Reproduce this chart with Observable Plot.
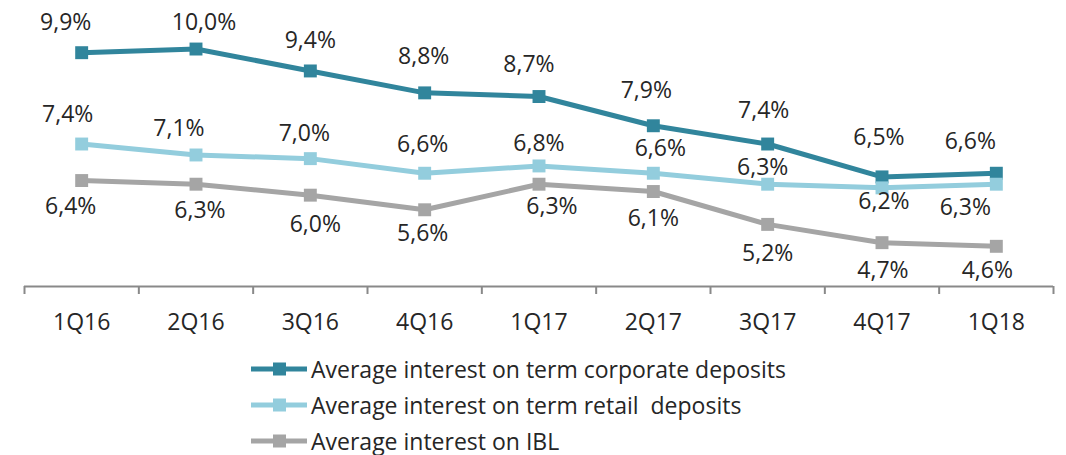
<!DOCTYPE html>
<html>
<head>
<meta charset="utf-8">
<script src="https://cdn.jsdelivr.net/npm/d3@7"></script>
<script src="https://cdn.jsdelivr.net/npm/@observablehq/plot@0.6"></script>
<style>
  html, body { margin: 0; padding: 0; background: #fff; }
  body { width: 1066px; height: 455px; overflow: hidden; font-family: "Open Sans", sans-serif; color: #262626; }
  #legend { position: relative; padding-top: 11px; }
  .row { display: flex; align-items: center; height: 36px; margin-left: 251px; font-size: 23px; }
  .row svg { margin-right: 4px; flex: none; }
</style>
</head>
<body>
<div id="chart"></div>
<div id="legend"></div>
<script>
const categories = ["1Q16","2Q16","3Q16","4Q16","1Q17","2Q17","3Q17","4Q17","1Q18"];
const corporate = [9.9, 10.0, 9.4, 8.8, 8.7, 7.9, 7.4, 6.5, 6.6];
const retail    = [7.4, 7.1, 7.0, 6.6, 6.8, 6.6, 6.3, 6.2, 6.3];
const ibl       = [6.4, 6.3, 6.0, 5.6, 6.3, 6.1, 5.2, 4.7, 4.6];
const seriesNames = [
  "Average interest on term corporate deposits",
  "Average interest on term retail  deposits",
  "Average interest on IBL"
];
const seriesColors = ["#31859C", "#93CDDD", "#A5A5A5"];

// label nudges (dx, dy in px) per series, per category
const labelDx = [
  [-16, 8, 0, -1, -10, -7, -4, -3, -26],
  [-14, -17, -6, -2, 0, 7, -5, 2, -31],
  [-11, 4, 5, -2, 13, 0, 0, 1, -9]
];
const labelDy = [
  [-30, -26, -30, -36, -32, -35, -33, -39, -32],
  [-29, -26, -25, -29, -22, -25, -17, 14, 23],
  [26, 26, 29, 24, 22, 27, 29, 28, 24]
];

const valuesBySeries = [corporate, retail, ibl];
const rows = [];
valuesBySeries.forEach((vals, s) => vals.forEach((v, i) => rows.push({
  s, series: seriesNames[s], i, cat: categories[i], v,
  dx: labelDx[s][i], dy: labelDy[s][i]
})));

const fmt = v => v.toFixed(1).replace(".", ",") + "%";
const boundaries = d3.range(categories.length + 1).map(i => i - 0.5);
const font = '"Open Sans", sans-serif';

const marks = [
  Plot.ruleY([3.5], {stroke: "#898989", strokeWidth: 2}),
  Plot.line(rows, {x: "i", y: "v", z: "series", stroke: "series", strokeWidth: 5, strokeLinejoin: "round"}),
  Plot.dot(rows, {x: "i", y: "v", fill: "series", symbol: "square", r: 7.3}),
  Plot.text(categories, {x: (d, i) => i, y: () => 3.5, text: d => d, dy: 36, fontSize: 23, fill: "#262626"})
];
rows.forEach(r => {
  marks.push(Plot.text([r], {x: "i", y: "v", text: d => fmt(d.v), dx: r.dx, dy: r.dy, fontSize: 23, fill: "#262626"}));
});

const chart = Plot.plot({
  width: 1066,
  height: 340,
  marginLeft: 24,
  marginRight: 13,
  marginTop: 12,
  marginBottom: 54,
  style: {fontFamily: font, background: "#fff", overflow: "visible"},
  x: {domain: [-0.5, categories.length - 0.5], ticks: boundaries, tickSize: 8, tickFormat: () => "", label: null},
  y: {domain: [3.5, 11], axis: null},
  color: {domain: seriesNames, range: seriesColors},
  marks
});
chart.querySelectorAll('[aria-label="x-axis"] line, [aria-label="x-axis tick"] path').forEach(e => { e.setAttribute("stroke", "#898989"); e.setAttribute("stroke-width", "2"); });
const xa = chart.querySelector('[aria-label="x-axis"], [aria-label="x-axis tick"]');
if (xa) xa.setAttribute("stroke", "#898989");
document.getElementById("chart").appendChild(chart);

const legend = document.getElementById("legend");
seriesNames.forEach((name, s) => {
  const row = document.createElement("div");
  row.className = "row";
  row.innerHTML = `<svg width="56" height="14"><line x1="0" x2="56" y1="7" y2="7" stroke="${seriesColors[s]}" stroke-width="5" stroke-linecap="round"/><rect x="22" y="0.5" width="13" height="13" fill="${seriesColors[s]}"/></svg><span style="white-space:pre">${name}</span>`;
  legend.appendChild(row);
});
</script>
</body>
</html>
